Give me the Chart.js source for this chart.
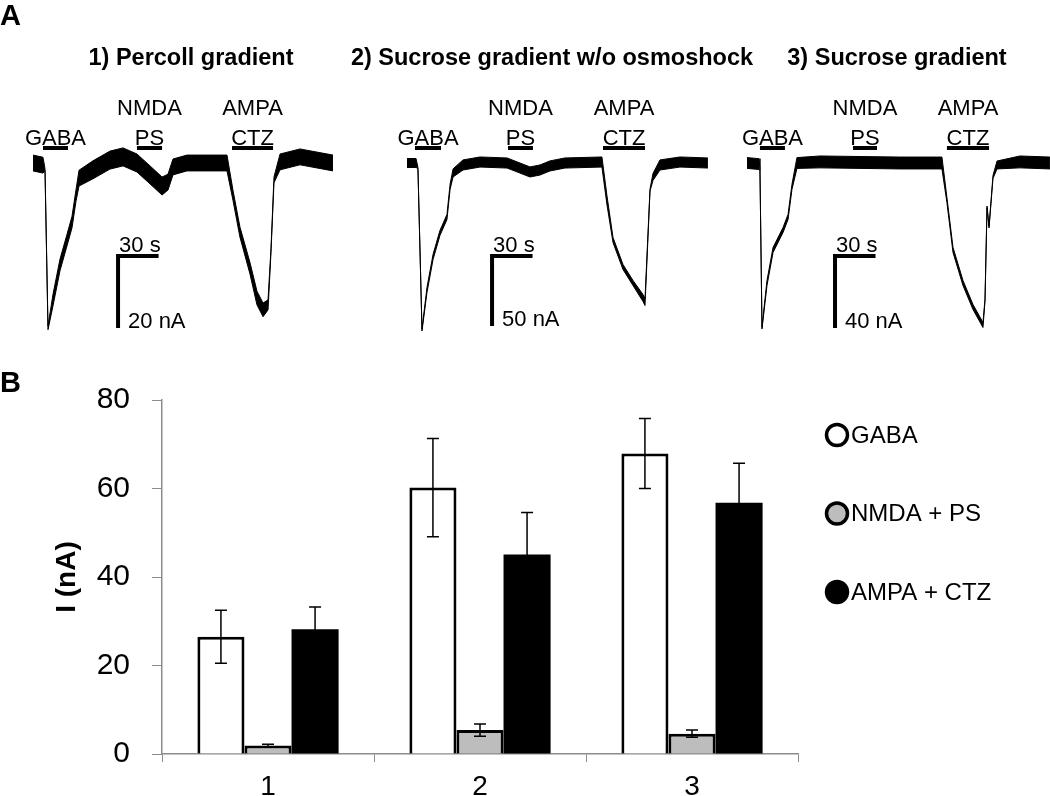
<!DOCTYPE html>
<html>
<head>
<meta charset="utf-8">
<script src="https://cdn.jsdelivr.net/npm/chart.js@4.4.1/dist/chart.umd.min.js"></script>
<style>
  body { margin: 0; background: #fff; }
  #wrap { position: relative; width: 1050px; height: 796px; overflow: hidden; }
  canvas { position: absolute; left: 0; }
</style>
</head>
<body>
<div id="wrap">
  <canvas id="trace1" width="1050" height="360" style="top:0"></canvas>
  <canvas id="trace2" width="1050" height="360" style="top:0"></canvas>
  <canvas id="trace3" width="1050" height="360" style="top:0"></canvas>
  <canvas id="bars" width="1050" height="436" style="top:360px"></canvas>
</div>
<script>
const FONT = '"Liberation Sans", Arial, sans-serif';

// Panel A: example current traces (time in s, current in nA, noise = half band width in nA)
const t1 = [0, 7.4, 8.9, 11.1, 14.8, 20, 25.2, 28.9, 31.9, 34.1, 44.4, 57, 66.7, 77, 86.7, 95.6, 100, 103.7, 114, 143.7, 148.1, 153.3, 160.7, 165.9, 170.4, 174.1, 176.3, 178.5, 183, 197.8, 222.2];
const i1 = [0, -0.6, -1.9, -45.8, -38.1, -28.3, -21.4, -16.4, -8.9, -4.2, -1.9, 0.8, 1.7, 0, -3.3, -6.4, -5.3, -1.1, 0, 0, -8.9, -19.2, -29.2, -37.5, -40.8, -39.4, -24.2, -4.7, 0.3, 1.7, 0];
const n1 = [2.2, 2.2, 0.3, 0.5, 1.6, 1.6, 1.6, 1.6, 1.6, 2.2, 2.5, 2.5, 2.5, 2.5, 2.5, 2.5, 2.2, 2.2, 2.2, 2.2, 1.4, 1.4, 1.6, 1.9, 1.9, 1.4, 0.5, 0.8, 2.2, 2.2, 2.2];

const t2 = [0, 6.7, 8.1, 11.1, 14.8, 19.3, 24.4, 29.6, 31.9, 34.1, 41.5, 54.1, 74.1, 83.7, 91.1, 98.5, 105.9, 117, 144.4, 148.1, 152.6, 160, 167.4, 174.8, 176.3, 180, 182.2, 187.4, 202.2, 222.9];
const i2 = [0, 0, -3.6, -119.3, -90.7, -67.1, -50, -38.6, -17.1, -7.1, -1.4, 0.7, 0, -3.6, -6.4, -5, -2.1, 0, 0.7, -26.4, -55, -74.3, -85.7, -96.4, -99.3, -19.3, -10, -1.4, 0.7, 0];
const n2 = [3.2, 3.2, 0.4, 0.7, 1.8, 1.8, 1.8, 1.8, 1.8, 2.9, 3.6, 3.6, 3.6, 3.6, 3.6, 3.6, 3.6, 3.6, 3.6, 3.2, 1.8, 1.8, 1.8, 2.5, 2.5, 0.7, 2.5, 3.6, 3.6, 3.6];

const t3 = [0, 8.9, 9.6, 11.1, 14.8, 19.3, 26.7, 30.4, 33.3, 37, 54.1, 113.3, 144.4, 148.1, 152.6, 160, 167.4, 174.8, 176.3, 177.8, 179.3, 182.2, 185.2, 202.2, 224.4];
const i3 = [0, -0.6, -3.9, -91.7, -66.7, -48.3, -37.2, -30, -13.3, 0, 0.6, 0, 0, -20.6, -48.3, -66.7, -80, -90, -76.1, -24.4, -35.6, -7.8, -1.1, 0.6, 0];
const n3 = [3.0, 3.0, 0.3, 0.5, 1.4, 1.4, 1.4, 1.4, 1.4, 3.0, 3.3, 3.3, 3.3, 1.4, 1.4, 1.4, 1.4, 1.4, 0.5, 0.5, 0.5, 0.8, 2.2, 3.3, 3.3];

// drug application periods (s)
const drugNames = [['GABA'], ['NMDA', 'PS'], ['AMPA', 'CTZ']];
const drugs1 = [[7.4, 25.9], [77, 95.6], [147.4, 177.8]];
const drugs2 = [[5.9, 25.2], [74.8, 93.3], [145.2, 176.3]];
const drugs3 = [[9.6, 28.1], [78.5, 96.3], [148.1, 179.3]];
const scaleTime = 30;   // s
const scaleAmp = [20, 50, 40];   // nA

// Panel B: mean currents (nA) and errors
const groups = ['1', '2', '3'];
const gabaMean = [26.5, 60.2, 67.9];
const gabaErr = [6.0, 11.1, 7.9];
const nmdaMean = [1.9, 5.4, 4.6];
const nmdaErr = [0.3, 1.4, 0.8];
const ampaMean = [28.2, 45.1, 56.8];
const ampaErr = [5.0, 9.5, 8.9];
const legendNames = ['GABA', 'NMDA + PS', 'AMPA + CTZ'];

// ---- traces ----
const PX_PER_S = 1.35;

const traceMarks = {
  id: 'traceMarks',
  afterDraw(chart, args, o) {
    const { ctx, scales: { x, y } } = chart;
    const base = y.getPixelForValue(0);
    ctx.save();
    ctx.fillStyle = '#000';
    ctx.strokeStyle = '#000';
    ctx.textBaseline = 'alphabetic';

    if (o.panel) {
      ctx.textAlign = 'left';
      ctx.font = 'bold 29px ' + FONT;
      ctx.fillText(o.panel, 0, 25);
    }
    ctx.textAlign = 'center';
    ctx.font = 'bold 23.5px ' + FONT;
    ctx.fillText(o.title, o.titleX, 65);

    // drug bars with labels
    ctx.font = '22px ' + FONT;
    ctx.lineWidth = 4;
    o.drugs.forEach((d, k) => {
      const x0 = x.getPixelForValue(d[0]);
      const x1 = x.getPixelForValue(d[1]);
      const yb = base - 15;
      ctx.beginPath();
      ctx.moveTo(x0, yb);
      ctx.lineTo(x1, yb);
      ctx.stroke();
      const lines = drugNames[k];
      lines.forEach((s, j) => {
        ctx.fillText(s, (x0 + x1) / 2, yb - 3 - (lines.length - 1 - j) * 30);
      });
    });

    // scale bar
    const cx = x.getPixelForValue(o.bar[0]);
    const cy = y.getPixelForValue(o.bar[1]);
    const hx = x.getPixelForValue(o.bar[0] + scaleTime);
    const vy = y.getPixelForValue(o.bar[1] - o.amp);
    ctx.lineWidth = 4;
    ctx.lineJoin = 'miter';
    ctx.beginPath();
    ctx.moveTo(hx, cy);
    ctx.lineTo(cx, cy);
    ctx.lineTo(cx, vy);
    ctx.stroke();
    ctx.textAlign = 'left';
    ctx.fillText(scaleTime + ' s', cx + 1, cy - 4);
    ctx.fillText(o.amp + ' nA', cx + 10, vy);
    ctx.restore();
  }
};

function drawTrace(id, t, cur, noise, cfg) {
  const upper = t.map((tt, k) => ({ x: tt, y: cur[k] + noise[k] }));
  const lower = t.map((tt, k) => ({ x: tt, y: cur[k] - noise[k] }));
  return new Chart(document.getElementById(id), {
    type: 'line',
    data: {
      datasets: [
        { data: upper, borderColor: '#000', borderWidth: 1, fill: false },
        { data: lower, borderColor: '#000', borderWidth: 1, backgroundColor: '#000', fill: '-1' }
      ]
    },
    options: {
      responsive: false,
      animation: false,
      devicePixelRatio: 1,
      layout: { padding: { top: 125, bottom: 20, left: 0, right: 0 } },
      elements: { point: { radius: 0 }, line: { tension: 0 } },
      plugins: {
        legend: { display: false },
        tooltip: { enabled: false },
        traceMarks: cfg
      },
      scales: {
        x: { type: 'linear', display: false, min: -cfg.start / PX_PER_S, max: (1050 - cfg.start) / PX_PER_S },
        y: { display: false, min: -177 / cfg.pxPerNA, max: 38 / cfg.pxPerNA }
      }
    },
    plugins: [traceMarks]
  });
}

drawTrace('trace1', t1, i1, n1, {
  panel: 'A', title: '1) Percoll gradient', titleX: 191,
  start: 33, pxPerNA: 3.6, drugs: drugs1, amp: scaleAmp[0], bar: [63, -25.8]
});
drawTrace('trace2', t2, i2, n2, {
  title: '2) Sucrose gradient w/o osmoshock', titleX: 552,
  start: 407, pxPerNA: 1.4, drugs: drugs2, amp: scaleAmp[1], bar: [63, -66.4]
});
drawTrace('trace3', t3, i3, n3, {
  title: '3) Sucrose gradient', titleX: 897,
  start: 747, pxPerNA: 1.8, drugs: drugs3, amp: scaleAmp[2], bar: [65.2, -51.7]
});

// ---- bar chart ----
const errorBars = {
  id: 'errorBars',
  afterDatasetsDraw(chart) {
    const { ctx, scales: { y } } = chart;
    const errs = [gabaErr, nmdaErr, ampaErr];
    const means = [gabaMean, nmdaMean, ampaMean];
    ctx.save();
    ctx.strokeStyle = '#000';
    ctx.lineWidth = 1.5;
    errs.forEach((err, d) => {
      chart.getDatasetMeta(d).data.forEach((bar, k) => {
        const top = y.getPixelForValue(means[d][k] + err[k]);
        const bot = y.getPixelForValue(means[d][k] - err[k]);
        ctx.beginPath();
        ctx.moveTo(bar.x, top); ctx.lineTo(bar.x, bot);
        ctx.moveTo(bar.x - 6, top); ctx.lineTo(bar.x + 6, top);
        ctx.moveTo(bar.x - 6, bot); ctx.lineTo(bar.x + 6, bot);
        ctx.stroke();
      });
    });
    ctx.restore();
  },
  afterDraw(chart) {
    const { ctx, chartArea } = chart;
    ctx.save();
    ctx.fillStyle = '#000';
    ctx.textBaseline = 'alphabetic';
    ctx.textAlign = 'left';
    ctx.font = 'bold 29px ' + FONT;
    ctx.fillText('B', 0, 32);

    // legend
    const fills = ['#fff', '#bdbdbd', '#000'];
    ctx.font = '24px ' + FONT;
    ctx.textBaseline = 'middle';
    legendNames.forEach((name, k) => {
      const cx = chartArea.right + 39;
      const cy = 75 + k * 78.5;
      ctx.beginPath();
      ctx.arc(cx, cy, 10.5, 0, Math.PI * 2);
      ctx.fillStyle = fills[k];
      ctx.fill();
      ctx.lineWidth = 3.5;
      ctx.strokeStyle = '#000';
      ctx.stroke();
      ctx.fillStyle = '#000';
      ctx.fillText(name, cx + 14, cy + 1);
    });
    ctx.restore();
  }
};

new Chart(document.getElementById('bars'), {
  type: 'bar',
  data: {
    labels: groups,
    datasets: [
      { label: legendNames[0], data: gabaMean, backgroundColor: '#fff', borderColor: '#000', borderWidth: 3 },
      { label: legendNames[1], data: nmdaMean, backgroundColor: '#bdbdbd', borderColor: '#000', borderWidth: 3 },
      { label: legendNames[2], data: ampaMean, backgroundColor: '#000', borderColor: '#000', borderWidth: 0 }
    ]
  },
  options: {
    responsive: false,
    animation: false,
    devicePixelRatio: 1,
    layout: { padding: { top: 37, right: 252, left: 0, bottom: 0 } },
    datasets: { bar: { categoryPercentage: 0.666, barPercentage: 1.0 } },
    plugins: { legend: { display: false }, tooltip: { enabled: false } },
    scales: {
      x: {
        grid: { display: true, drawOnChartArea: false, drawTicks: true, tickLength: 8, color: '#8c8c8c', offset: true },
        border: { color: '#8c8c8c', width: 1.5 },
        ticks: { color: '#000', font: { family: FONT, size: 28 }, padding: 8 },
        afterFit: s => { s.height = 42; }
      },
      y: {
        min: 0, max: 80,
        grid: { display: true, drawOnChartArea: false, drawTicks: true, tickLength: 10, color: '#8c8c8c' },
        border: { color: '#8c8c8c', width: 1.5 },
        ticks: { stepSize: 20, color: '#000', font: { family: FONT, size: 30 }, padding: 22 },
        title: { display: true, text: 'I (nA)', color: '#000', font: { family: FONT, size: 28, weight: 'bold' }, padding: { top: 50, bottom: 0 } },
        afterFit: s => { s.width = 162; }
      }
    }
  },
  plugins: [errorBars]
});
</script>
</body>
</html>
